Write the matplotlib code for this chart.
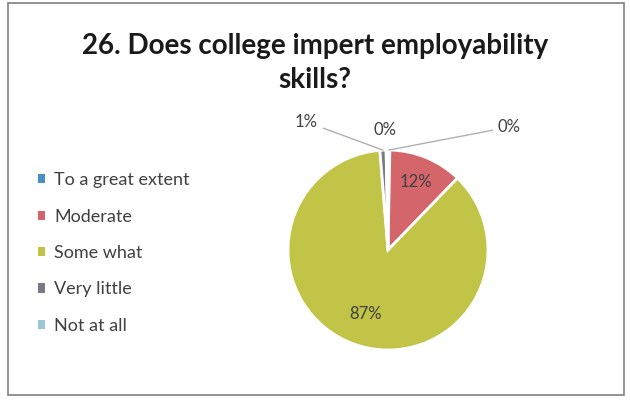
import matplotlib.pyplot as plt
import numpy as np

categories = ['To a great extent', 'Moderate', 'Some what', 'Very little', 'Not at all']
values = [0.3, 12, 87, 1, 0.3]
shown = ['0%', '12%', '87%', '1%', '0%']
colors = ['#4a8fbf', '#d4656a', '#c2c448', '#7a7a84', '#9cc6d2']

plt.rcParams['font.family'] = ['Lato', 'DejaVu Sans']

fig = plt.figure(figsize=(6.3, 4.03), dpi=100)
fig.patch.set_facecolor('white')

# frame around the chart
fig.add_artist(plt.Rectangle((8/630, 8/403), 616/630, 392/403, transform=fig.transFigure,
                             fill=False, edgecolor='#808080', linewidth=1.2))

fig.text(315/630, 1 - 46/403, '26. Does college impert employability', ha='center', va='center',
         fontsize=20, fontweight='bold', color='#1a1a1a')
fig.text(315/630, 1 - 80/403, 'skills?', ha='center', va='center',
         fontsize=20, fontweight='bold', color='#1a1a1a')

ax = fig.add_axes([288/630, 53/403, 200/630, 200/403])
wedges, _ = ax.pie(values, colors=colors, startangle=90, counterclock=False,
                   wedgeprops=dict(edgecolor='white', linewidth=2))
ax.set_xlim(-1, 1)
ax.set_ylim(-1, 1)
ax.set_aspect('equal')

# labels
total = sum(values)
angles = []
a = 90
for v in values:
    span = v / total * 360
    angles.append(a - span / 2)
    a -= span

# inside labels for the big slices
for i, r in [(1, 0.74), (2, 0.68)]:
    t = np.deg2rad(angles[i])
    ax.text(r * np.cos(t), r * np.sin(t), shown[i], ha='center', va='center',
            fontsize=12, color='#404040')

# outside labels for the small slices with leader lines
outside = {0: (1.1, 1.23, 'left'), 3: (-0.7, 1.28, 'right'), 4: (-0.03, 1.2, 'center')}
for i, (x, y, ha) in outside.items():
    t = np.deg2rad(angles[i])
    tip = (np.cos(t), np.sin(t))
    if i == 4:
        ax.text(x, y, shown[i], ha='center', va='center', fontsize=12, color='#404040')
        continue
    ax.annotate(shown[i], xy=tip, xytext=(x, y), ha=ha, va='center', fontsize=12,
                color='#404040',
                arrowprops=dict(arrowstyle='-', color='#b0b0b0', lw=1, shrinkA=2, shrinkB=0))

handles = [plt.Rectangle((0, 0), 1, 1, facecolor=c) for c in colors]
leg = fig.legend(handles, categories, loc='upper left', bbox_to_anchor=(22/630, 1 - 156/403),
                 frameon=False, fontsize=13, labelspacing=1.13, handlelength=0.4,
                 handleheight=0.4, handletextpad=0.5, labelcolor='#404040')

fig.savefig('out.png', dpi=100)
